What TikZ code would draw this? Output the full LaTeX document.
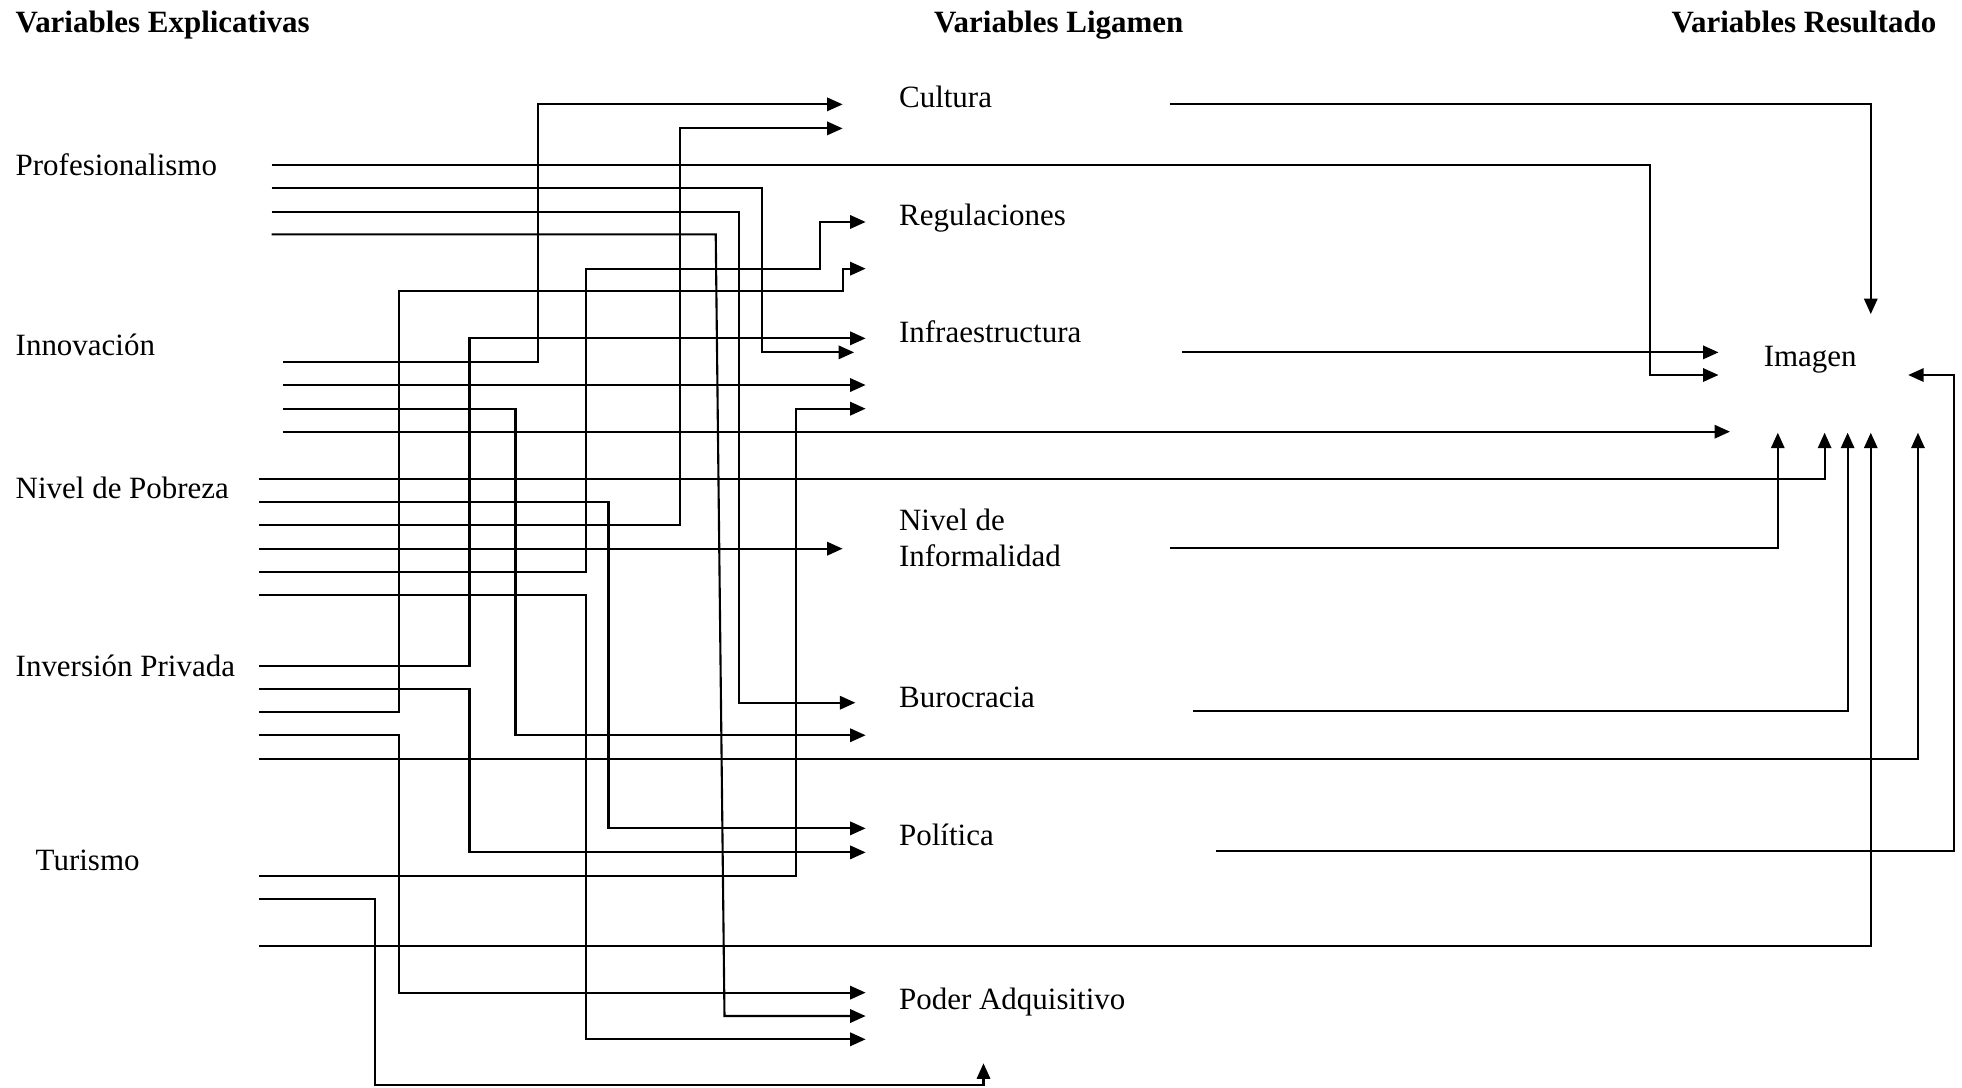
\documentclass[tikz,border=0pt]{standalone}
\usepackage{fontspec}
\setmainfont{Liberation Serif}
\usetikzlibrary{arrows.meta}

\begin{document}
\begin{tikzpicture}[x=.0125cm,y=-.0125cm,
      head/.style={font=\fontsize{8.8}{10}\selectfont\bfseries, inner sep=0pt,
        text height=7.6pt, text depth=1.9pt},
      varname/.style={font=\fontsize{8.8}{10}\selectfont, inner sep=0pt,
        anchor=west, text height=7.6pt, text depth=1.9pt},
      flow/.style={line width=.6pt, line join=miter,
        -{Triangle[length=4.4pt,width=3.8pt]}}]
      \useasboundingbox (0,0) rectangle (1568,869);

      % column headings
      \node[head, anchor=west] (hexp) at (12,18) {Variables Explicativas};
      \node[head, anchor=west] (hlig) at (746,18) {Variables Ligamen};
      \node[head, anchor=east] (hres) at (1548,18) {Variables Resultado};

      % explanatory variables
      \node[varname] (prof) at (12,132) {Profesionalismo};
      \node[varname] (innov) at (12,276) {Innovación};
      \node[varname] (pobr) at (12,390) {Nivel de Pobreza};
      \node[varname] (invp) at (12,533) {Inversión Privada};
      \node[varname] (turi) at (28,688) {Turismo};

      % link variables
      \node[varname] (cult) at (718,78) {Cultura};
      \node[varname] (regu) at (718,172) {Regulaciones};
      \node[varname] (infr) at (718,266) {Infraestructura};
      \node[varname] (infa) at (718,416) {Nivel de};
      \node[varname] (infb) at (718,445) {Informalidad};
      \node[varname] (buro) at (718,557) {Burocracia};
      \node[varname] (poli) at (718,668) {Política};
      \node[varname] (pode) at (718,799) {Poder Adquisitivo};

      % outcome
      \node[varname] (imag) at (1409,285) {Imagen};

      % line starts, left column
      \coordinate (pro1) at (217,132);   \coordinate (pro2) at (217,150.5);
      \coordinate (pro3) at (217,169.2); \coordinate (pro4) at (217,187.3);
      \coordinate (inn1) at (226,289);   \coordinate (inn2) at (226,307.7);
      \coordinate (inn3) at (226,326.6); \coordinate (inn4) at (226,345);
      \coordinate (pob1) at (207,382.6); \coordinate (pob2) at (207,401.2);
      \coordinate (pob3) at (207,419.8); \coordinate (pob4) at (207,438.5);
      \coordinate (pob5) at (207,457.1); \coordinate (pob6) at (207,475.8);
      \coordinate (inv1) at (207,532.3); \coordinate (inv2) at (207,550.4);
      \coordinate (inv3) at (207,569.3); \coordinate (inv4) at (207,587.6);
      \coordinate (inv5) at (207,606.6);
      \coordinate (tur1) at (207,700);   \coordinate (tur2) at (207,718.5);
      \coordinate (tur3) at (207,755.7);

      % arrow tips, middle column
      \coordinate (cul1) at (673.4,83.4);  \coordinate (cul2) at (673.4,102.6);
      \coordinate (reg1) at (691.8,177.4); \coordinate (reg2) at (691.8,214.7);
      \coordinate (inf1) at (691.8,270.4); \coordinate (inf2) at (682.6,281.6);
      \coordinate (inf3) at (691.8,307.7); \coordinate (inf4) at (691.8,326.6);
      \coordinate (inr1) at (673.4,438.5);
      \coordinate (bur1) at (683.6,561.6); \coordinate (bur2) at (691.8,587.6);
      \coordinate (pol1) at (691.8,662);   \coordinate (pol2) at (691.8,681.2);
      \coordinate (pod1) at (691.8,793.3); \coordinate (pod2) at (691.8,812);
      \coordinate (pod3) at (691.8,830.6); \coordinate (pod4) at (786,849.8);

      % line starts, middle column
      \coordinate (culo) at (934.9,83.4);  \coordinate (info) at (945,281.6);
      \coordinate (inro) at (934.9,438);   \coordinate (buro) at (953.8,568.3);
      \coordinate (polo) at (972.2,680.3);

      % arrow tips round Imagen
      \coordinate (imd) at (1495.1,251);
      \coordinate (imr1) at (1373.4,281.6); \coordinate (imr2) at (1373.4,299.7);
      \coordinate (imr3) at (1382.6,345);
      \coordinate (imu1) at (1420.8,345.8); \coordinate (imu2) at (1458.2,345.8);
      \coordinate (imu3) at (1476.6,345.8); \coordinate (imu4) at (1495.1,345.8);
      \coordinate (imu5) at (1532.8,345.8);
      \coordinate (iml) at (1525,299.7);

      % Profesionalismo
      \draw[flow] (pro1) -| (1318.4,299.7) -- (imr2);
      \draw[flow] (pro2) -| (609.2,281.6) -- (inf2);
      \draw[flow] (pro3) -| (590.4,561.6) -- (bur1);
      \draw[flow] (pro4) -- (572,187.3) -- (579,812) -- (pod2);
      % Innovacion
      \draw[flow] (inn1) -| (430.3,83.4) -- (cul1);
      \draw[flow] (inn2) -- (inf3);
      \draw[flow] (inn3) -| (412,587.6) -- (bur2);
      \draw[flow] (inn4) -- (imr3);
      % Nivel de Pobreza
      \draw[flow] (pob1) -| (imu2);
      \draw[flow] (pob2) -| (486.3,662) -- (pol1);
      \draw[flow] (pob3) -| (543.1,102.6) -- (cul2);
      \draw[flow] (pob4) -- (inr1);
      \draw[flow] (pob5) -| (468,214.7) -| (655,177.4) -- (reg1);
      \draw[flow] (pob6) -| (468,830.6) -- (pod3);
      % Inversion Privada
      \draw[flow] (inv1) -| (375.2,270.4) -- (inf1);
      \draw[flow] (inv2) -| (375.2,681.2) -- (pol2);
      \draw[flow] (inv3) -| (319,232.8) -| (673.4,214.7) -- (reg2);
      \draw[flow] (inv4) -| (319,793.3) -- (pod1);
      \draw[flow] (inv5) -| (imu5);
      % Turismo
      \draw[flow] (tur1) -| (636.2,326.6) -- (inf4);
      \draw[flow] (tur2) -| (299.7,867.1) -| (pod4);
      \draw[flow] (tur3) -| (imu4);

      % link variables into Imagen
      \draw[flow] (culo) -| (imd);
      \draw[flow] (info) -- (imr1);
      \draw[flow] (inro) -| (imu1);
      \draw[flow] (buro) -| (imu3);
      \draw[flow] (polo) -| (1561.4,299.7) -- (iml);
    \end{tikzpicture}
\end{document}
